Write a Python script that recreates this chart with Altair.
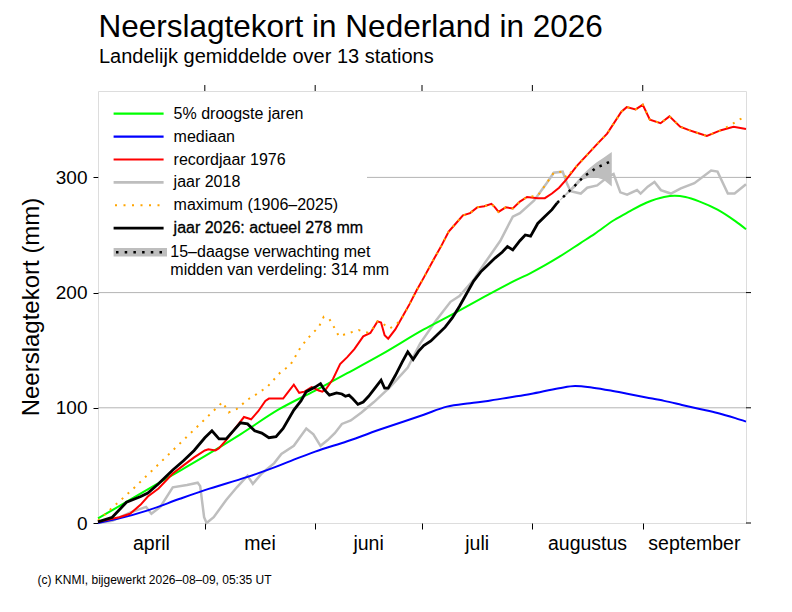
import altair as alt
import pandas as pd

# ---------------- data (day 0 = 1 april) ----------------
month_ticks = [30, 61, 91, 122, 153]
month_mid = [15, 45.5, 76, 106.5, 137.5, 167.5]
month_names = ["april", "mei", "juni", "juli", "augustus", "september"]
y_ticks = [0, 100, 200, 300]

green_5pct = [(0, 4), (10, 22), (20, 40), (30, 58), (40, 77), (51, 99), (61, 115), (70, 130),
              (80, 147), (91.5, 168), (99.5, 181), (109.5, 198), (117.5, 211), (121.5, 217),
              (129.5, 231), (135.5, 243), (139.5, 251), (145, 263), (149, 270), (154, 278),
              (159, 283), (162, 284), (165, 283), (169, 279), (174, 272), (179, 262), (182, 255)]

blue_median = [(0, 0), (6, 4), (14, 11), (23, 21), (30, 28.5), (42, 40), (51, 50), (55, 55),
               (61, 62), (70, 71), (80, 82), (91.5, 94), (98, 101), (104.5, 104), (109.5, 106),
               (115.5, 109), (121.5, 112), (129.5, 117), (134, 119), (139, 117.5), (144, 115),
               (149, 112), (154, 109), (159, 106), (164, 102.5), (169, 99), (174, 95.5),
               (179, 91), (182, 88)]

red_1976 = [(0, 1), (3, 3), (6, 5), (9, 8), (12, 16), (14, 23), (17, 30), (21, 43), (24, 50),
            (27, 57), (30, 63), (31, 64), (33, 63), (34, 65), (36, 72), (38, 80), (41, 92),
            (43, 90), (45, 97), (47, 106), (48, 108), (50, 108), (52, 108), (53, 112), (55, 120),
            (56.5, 113), (58, 114), (60, 118), (62, 115), (63, 114), (64, 116), (66, 125),
            (68, 138), (70, 144), (72, 151), (74.5, 162), (76.5, 165), (77.5, 170), (78.5, 175),
            (79.5, 174), (80.5, 163), (81.5, 160), (83.5, 168), (85.5, 179), (87.5, 190),
            (89.5, 202), (91.5, 213), (94.5, 230), (96.5, 241), (98.5, 253), (100.5, 260),
            (102.5, 267), (104.5, 269), (106.5, 274), (108.5, 275), (110.5, 277), (111.5, 274),
            (112.5, 270), (114.5, 274), (116.5, 273), (118.5, 279), (120.5, 283), (123.5, 282),
            (125.5, 282), (127.5, 286), (129.5, 291), (131.5, 298), (134.5, 310), (137.5, 320),
            (140.5, 330), (143, 338), (147, 357), (148.5, 361), (151, 359), (153, 363),
            (155, 350), (158, 347), (160.5, 353), (163.5, 344), (166, 341), (168, 339),
            (171, 336), (175, 341), (178.5, 344), (182, 342)]

gray_2018 = [(0, 0), (4, 2), (9, 9), (13.5, 14), (15, 8), (17.5, 14), (21, 31), (25, 33), (28, 35),
             (28.7, 32), (29.8, 5), (30.5, 0), (32.5, 5), (36, 20), (39, 31), (42, 41), (43.5, 34),
             (46, 43), (49.5, 52), (51.5, 60), (55, 67), (58.5, 82), (60.5, 77), (62.5, 67),
             (64.5, 72), (66.5, 78), (68.5, 86), (71, 89), (74, 96), (77.5, 105), (82, 118),
             (87, 135), (90.5, 156), (95, 176), (99, 192), (101.5, 197), (105.5, 211),
             (108.5, 225), (113, 245), (116.5, 266), (118.5, 269), (122.5, 280), (126, 295),
             (128, 304), (130.5, 305), (131.7, 295), (132.7, 288), (135.6, 286), (137.4, 291),
             (140.2, 293), (143.4, 301), (144.8, 303), (146.7, 287), (148.6, 285), (151.4, 289),
             (152.4, 286), (154.4, 292), (156.3, 296), (158.1, 289), (160.9, 286), (163.7, 290.5),
             (167.5, 295), (172.2, 306), (174, 305), (176.9, 286), (178.8, 286), (182, 294)]

orange_max = [(0, 2), (5, 16), (10, 30), (15, 45), (20, 60), (25, 75), (30, 90), (33, 99), (35, 105),
              (36.7, 96), (39, 99), (42, 107), (44.6, 112), (47.5, 118), (51.3, 131), (54, 137),
              (57, 153), (59.7, 163), (62, 170), (63.4, 179), (65, 177), (66.3, 170), (67.7, 162),
              (70, 164.5), (73.2, 167.4), (76, 165), (77.5, 170), (78.5, 175), (79.5, 174),
              (82, 169), (84, 173), (85.8, 180), (87.5, 190), (89.5, 202), (91.5, 213),
              (94.5, 230), (96.5, 241), (98.5, 253), (100.5, 260), (102.5, 267), (104.5, 269),
              (106.5, 274), (108.5, 275), (110.5, 277), (111.5, 274), (112.5, 270), (114.5, 274),
              (116.5, 273), (118.5, 279), (120.5, 283), (123.5, 284), (126, 295), (128, 304),
              (130.5, 305), (131.5, 300), (134.5, 310), (137.5, 320), (140.5, 330), (143, 338),
              (147, 357), (148.5, 361), (151, 359), (153, 363), (155, 350), (158, 347),
              (160.5, 353), (163.5, 344), (166, 341), (168, 339), (171, 336), (175, 341),
              (177.5, 345), (180, 350), (182, 353)]

black_2026 = [(0, 1), (4, 5), (8, 18), (12, 23), (14, 26), (17, 34), (21, 46), (24, 54), (27, 63),
              (30, 74), (32, 80), (34, 73), (36, 73), (38, 80), (40, 87), (42, 86), (44, 80),
              (46, 78), (48, 74), (50, 75), (52, 82), (55, 98), (57, 106), (58.5, 114), (61, 118),
              (62.5, 121), (63.5, 116), (65, 111), (67, 113), (68.5, 112), (69.5, 110),
              (70.5, 111), (71.5, 108), (73, 103), (74.5, 105), (76, 110), (78, 118),
              (79.5, 124), (80.5, 117), (81.5, 117), (83.5, 128), (85.5, 140), (87, 148.6),
              (88.5, 142), (90, 149), (91.5, 154), (93.5, 158), (95.5, 164), (97.5, 170),
              (99.5, 178), (101.5, 188), (103.5, 199), (105.5, 210), (107.5, 218), (109.5, 224),
              (111.5, 230), (113.5, 235), (115, 240), (116.5, 237), (118.5, 245), (120, 250),
              (121.5, 249), (123.5, 260), (125.5, 266), (127.5, 272), (129, 278)]

forecast_mid = [(129, 278), (131, 284), (134, 293), (136.5, 301), (138.5, 305), (140, 308.5),
                (142, 311), (144, 314)]
forecast_band = [(129, 278, 278), (131, 283, 285), (134, 291, 295), (136, 298, 302),
                 (138, 300, 308), (140, 300, 313), (142, 298, 317), (144.3, 292, 322)]

legend_rows = ["5% droogste jaren", "mediaan", "recordjaar 1976", "jaar 2018",
               "maximum (1906–2025)", "jaar 2026: actueel 278 mm"]
legend_colors = ["#00ff00", "#0000ff", "#ff0000", "#bebebe", "#ffa500", "#000000"]

# ---------------- chart ----------------
W, H = 648, 432
FONT = "Liberation Sans"

xscale = alt.Scale(domain=[0, 182], nice=False, zero=False)
yscale = alt.Scale(domain=[0, 375], nice=False)
xaxis = alt.Axis(values=month_ticks, labels=False, title=None, tickSize=6, tickColor="black",
                 domain=False, grid=False)
yaxis = alt.Axis(values=y_ticks, title=None, tickSize=5, tickColor="black", domain=False,
                 grid=False, labelFontSize=19, labelFont=FONT, labelColor="black", labelPadding=6)
X = alt.X("day:Q", scale=xscale, axis=xaxis)
Y = alt.Y("v:Q", scale=yscale, axis=yaxis)


def pairs(p):
    return pd.DataFrame({"day": [a for a, b in p], "v": [b for a, b in p]})


def line(p, color, width, dash=None, interp="linear"):
    kw = dict(color=color, strokeWidth=width, interpolate=interp)
    if dash:
        kw["strokeDash"] = dash
    return alt.Chart(pairs(p)).mark_line(**kw).encode(x=X, y=Y)


one = pd.DataFrame({"a": [0]})


def txt(text, x, y, size, align="left", baseline="middle", angle=None, **extra):
    kw = dict(text=text, font=FONT, fontSize=size, align=align, baseline=baseline, color="black")
    if angle is not None:
        kw["angle"] = angle
    kw.update(extra)
    return alt.Chart(one).mark_text(**kw).encode(x=alt.value(x), y=alt.value(y))


def hrule(x1, x2, y, color, width, dash=None):
    kw = dict(color=color, strokeWidth=width)
    if dash:
        kw["strokeDash"] = dash
    return alt.Chart(one).mark_rule(**kw).encode(x=alt.value(x1), x2=alt.value(x2), y=alt.value(y))


layers = []
# gridlines
layers.append(alt.Chart(pd.DataFrame({"v": [100, 200, 300]})).mark_rule(
    color="#b4b4b4", strokeWidth=1).encode(y=Y, x=alt.value(0), x2=alt.value(W)))
# legend background
layers.append(alt.Chart(one).mark_rect(color="white").encode(
    x=alt.value(1), x2=alt.value(269), y=alt.value(1), y2=alt.value(195)))
# series
layers.append(line(gray_2018, "#bebebe", 2.5))
band_df = pd.DataFrame({"day": [a for a, b, c in forecast_band],
                        "lo": [b for a, b, c in forecast_band],
                        "hi": [c for a, b, c in forecast_band]})
layers.append(alt.Chart(band_df).mark_area(color="#bebebe", opacity=1).encode(
    x=X, y=alt.Y("lo:Q", scale=yscale, axis=yaxis), y2="hi:Q"))
layers.append(line(blue_median, "#0000ff", 2, interp="monotone"))
layers.append(line(green_5pct, "#00ff00", 2, interp="monotone"))
layers.append(line(red_1976, "#ff0000", 2))
layers.append(line(orange_max, "#ffa500", 2, dash=[2, 6]))
layers.append(line(black_2026, "#000000", 2.8))
layers.append(line(forecast_mid, "#000000", 2.5, dash=[2.5, 5.5]))

# top / right ticks
layers.append(alt.Chart(pd.DataFrame({"day": month_ticks})).mark_rule(color="black").encode(
    x=X, y=alt.value(-6), y2=alt.value(0)))
layers.append(alt.Chart(pd.DataFrame({"v": y_ticks})).mark_rule(color="black").encode(
    y=Y, x=alt.value(W), x2=alt.value(W + 5)))

# month labels
layers.append(alt.Chart(pd.DataFrame({"day": month_mid, "label": month_names})).mark_text(
    font=FONT, fontSize=19.5, align="center", baseline="alphabetic", color="black").encode(
    x=X, y=alt.value(459), text="label:N"))

# legend
row_y = [22.7, 45.6, 68.5, 91.4, 114.3, 137.2]
for i, (lab, col) in enumerate(zip(legend_rows, legend_colors)):
    if i == 4:
        layers.append(hrule(17, 66, row_y[i], col, 2, dash=[2, 6.5]))
    elif i == 5:
        layers.append(hrule(15.6, 65.6, row_y[i], col, 2.8))
    else:
        layers.append(hrule(15.6, 65.6, row_y[i], col, 2.2 if i != 3 else 2.6))
    if i == 5:
        layers.append(txt(lab, 75.6, row_y[i], 16, stroke="black", strokeWidth=0.3))
    else:
        layers.append(txt(lab, 75.6, row_y[i], 16))
layers.append(hrule(15.6, 69, 161.3, "#bebebe", 8.5))
layers.append(hrule(18, 68, 161.3, "#000000", 2.5, dash=[2.5, 6.2]))
layers.append(txt("15–daagse verwachting met", 72.3, 161.3, 16))
layers.append(txt("midden van verdeling: 314 mm", 72.3, 179.3, 16))

# titles and annotations
layers.append(txt("Neerslagtekort in Nederland in 2026", 0.5, -54, 31.5, baseline="alphabetic"))
layers.append(txt("Landelijk gemiddelde over 13 stations", 1, -27.7, 20, baseline="alphabetic"))
layers.append(txt("Neerslagtekort (mm)", -66, H / 2, 24, align="center", angle=270))
layers.append(txt("(c) KNMI, bijgewerkt 2026–08–09, 05:35 UT", -60.5, 493, 12,
                  baseline="alphabetic"))

chart = alt.layer(*layers).properties(
    width=W, height=H,
    padding={"left": 90, "top": 83, "right": 30, "bottom": 75},
    autosize=alt.AutoSizeParams(type="none"),
).configure_view(stroke="black", strokeWidth=1).configure(background="white")

chart.save("out.html", embed_options={"renderer": "svg", "actions": False})
